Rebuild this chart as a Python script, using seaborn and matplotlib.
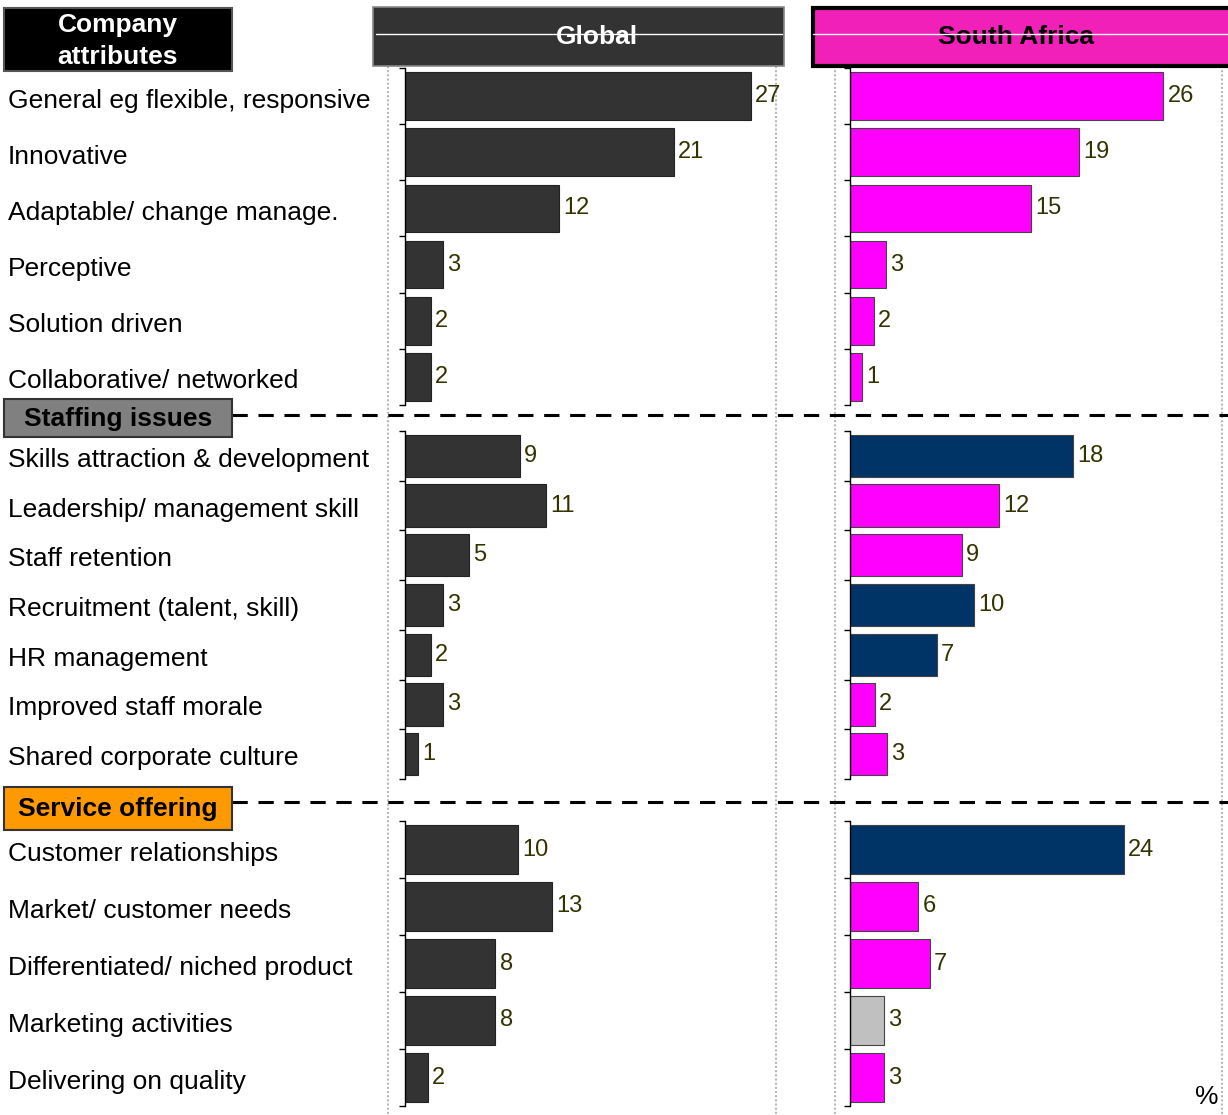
import matplotlib
matplotlib.use("Agg")
import matplotlib.pyplot as plt
import matplotlib.transforms as mtransforms
from matplotlib.patches import Rectangle
import seaborn as sns
import pandas as pd
import numpy as np

# ---------------- data ----------------
sec1_cats = ["General eg flexible, responsive", "Innovative", "Adaptable/ change manage.",
             "Perceptive", "Solution driven", "Collaborative/ networked"]
sec1_global = [27, 21, 12, 3, 2, 2]
sec1_sa = [26, 19, 15, 3, 2, 1]

sec2_cats = ["Skills attraction & development", "Leadership/ management skill", "Staff retention",
             "Recruitment (talent, skill)", "HR management", "Improved staff morale",
             "Shared corporate culture"]
sec2_global = [9, 11, 5, 3, 2, 3, 1]
sec2_sa = [18, 12, 9, 10, 7, 2, 3]

sec3_cats = ["Customer relationships", "Market/ customer needs", "Differentiated/ niched product",
             "Marketing activities", "Delivering on quality"]
sec3_global = [10, 13, 8, 8, 2]
sec3_sa = [24, 6, 7, 3, 3]

section_titles = ["Company\nattributes", "Staffing issues", "Service offering"]
panel_titles = ["Global", "South Africa"]

# ---------------- styles ----------------
PINK = "#FF00FF"
NAVY = "#003366"
LGRAY = "#C0C0C0"
DARK = "#333333"
sa_styles = [
    [PINK] * 6,
    [NAVY, PINK, PINK, NAVY, NAVY, PINK, PINK],
    [NAVY, PINK, PINK, LGRAY, PINK],
]

sns.set_style("white")
plt.rcParams["font.family"] = ["Liberation Sans", "DejaVu Sans"]

W, H = 1228, 1115
fig = plt.figure(figsize=(W / 100, H / 100), dpi=100)

# overlay in pixel coordinates for decorations
ov = fig.add_axes([0, 0, 1, 1])
ov.set_xlim(0, W)
ov.set_ylim(H, 0)
ov.axis("off")
ov.set_zorder(0)

def rect(ax_rect_px):
    x0, y0, x1, y1 = ax_rect_px
    return [x0 / W, 1 - y1 / H, (x1 - x0) / W, (y1 - y0) / H]

sections = [
    dict(cats=sec1_cats, g=sec1_global, s=sec1_sa, y0=68, y1=405, gmax=370 / 12.8, smax=372 / 12.05),
    dict(cats=sec2_cats, g=sec2_global, s=sec2_sa, y0=431, y1=779, gmax=370 / 12.8, smax=372 / 12.4),
    dict(cats=sec3_cats, g=sec3_global, s=sec3_sa, y0=821, y1=1106, gmax=370 / 11.3, smax=372 / 11.4),
]

TXT = 19

for si, sec in enumerate(sections):
    n = len(sec["cats"])
    for pi, (vals, x0, x1, xmax) in enumerate([
        (sec["g"], 405, 775, sec["gmax"]),
        (sec["s"], 850, 1222, sec["smax"]),
    ]):
        ax = fig.add_axes(rect((x0, sec["y0"], x1, sec["y1"])))
        ax.set_zorder(2)
        ax.patch.set_alpha(0)
        df = pd.DataFrame({"cat": sec["cats"], "val": vals})
        if pi == 0:
            sns.barplot(data=df, x="val", y="cat", orient="h", color=DARK, saturation=1,
                        width=0.85, errorbar=None, edgecolor="#222222", linewidth=0.8, ax=ax)
        else:
            pal = dict(zip(sec["cats"], sa_styles[si]))
            sns.barplot(data=df, x="val", y="cat", hue="cat", palette=pal, orient="h",
                        saturation=1, width=0.85, errorbar=None, edgecolor="#444444",
                        linewidth=0.8, legend=False, dodge=False, ax=ax)
        ax.set_xlim(0, xmax)
        ax.set_ylim(n - 0.5, -0.5)
        ax.set_xlabel("")
        ax.set_ylabel("")
        ax.set_xticks([])
        ax.set_yticks(np.arange(n + 1) - 0.5)
        ax.set_yticklabels([])
        ax.tick_params(axis="y", direction="out", length=4, width=1, color="black", left=True)
        for sp in ["top", "right", "bottom"]:
            ax.spines[sp].set_visible(False)
        ax.spines["left"].set_color("black")
        ax.spines["left"].set_linewidth(1)
        for cont in ax.containers:
            ax.bar_label(cont, fmt="%g", padding=3, color="#333300", fontsize=17)
        if pi == 0:
            trans = mtransforms.blended_transform_factory(fig.transFigure, ax.transData)
            for i, c in enumerate(sec["cats"]):
                ax.text(8 / W, i + 0.08, c, transform=trans, ha="left", va="center",
                        fontsize=TXT, color="black", clip_on=False)

# dotted vertical frame lines
for xv in [388, 776, 835, 1222]:
    ov.plot([xv, xv], [66, H], color="#B8B8B8", lw=1.5, ls=(0, (1, 1)), zorder=1)

# dashed separators
for yv in [415, 802]:
    ov.plot([232, W], [yv, yv], color="black", lw=2.2, ls=(0, (5, 3.5)), zorder=1)

# section header boxes
ov.add_patch(Rectangle((4, 8), 228, 63, facecolor="black", edgecolor="#555555", lw=1.5, zorder=3))
ov.text(118, 41, section_titles[0], color="white", fontsize=TXT, fontweight="bold",
        ha="center", va="center", linespacing=1.38, zorder=4)
ov.add_patch(Rectangle((4, 399), 228, 38, facecolor="#808080", edgecolor="#333333", lw=1.5, zorder=3))
ov.text(118, 419, section_titles[1], color="black", fontsize=TXT, fontweight="bold",
        ha="center", va="center", zorder=4)
ov.add_patch(Rectangle((4, 787), 228, 43, facecolor="#FF9900", edgecolor="#333333", lw=1.5, zorder=3))
ov.text(118, 809, section_titles[2], color="black", fontsize=TXT, fontweight="bold",
        ha="center", va="center", zorder=4)

# panel header boxes
ov.add_patch(Rectangle((373, 7), 411, 59, facecolor=DARK, edgecolor="#888888", lw=1.2, zorder=3))
ov.plot([376, 782], [34, 34], color="white", lw=1, zorder=5)
ov.text(597, 37, panel_titles[0], color="white", fontsize=TXT, fontweight="bold",
        ha="center", va="center", zorder=4)
ov.add_patch(Rectangle((813, 8), 430, 58, facecolor="#F020B8", edgecolor="black", lw=3, zorder=3,
                       clip_on=False))
ov.plot([813, W], [34, 34], color="white", lw=1, zorder=5)
ov.text(1016, 37, panel_titles[1], color="black", fontsize=TXT, fontweight="bold",
        ha="center", va="center", zorder=4)

ov.text(1207, 1097, "%", color="black", fontsize=TXT, ha="center", va="center", zorder=4)

fig.savefig("out.png", dpi=100)
